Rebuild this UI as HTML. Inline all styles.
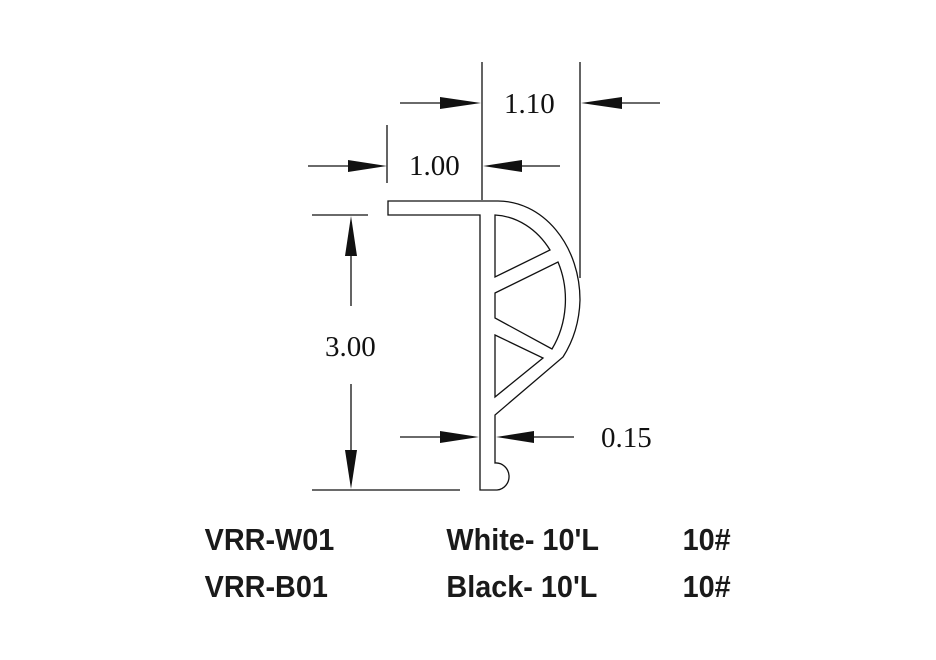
<!DOCTYPE html>
<html><head><meta charset="utf-8"><style>
body{margin:0;background:#fff;}
svg{display:block}
.s{font-family:"Liberation Serif",serif;font-size:29px;fill:#111}
.b{font-family:"Liberation Sans",sans-serif;font-weight:bold;font-size:31px;fill:#1a1a1a}
</style></head><body>
<svg width="936" height="660" viewBox="0 0 936 660" xmlns="http://www.w3.org/2000/svg">
<g stroke="#111" stroke-width="1.3" fill="none">
<!-- profile outer -->
<path d="M388,201 L498,201 A82,99 0 0 1 580,300 A82,99 0 0 1 563,357 L495,415 L495,463 A13,13.5 0 0 1 497,490 L480,490 L480,215 L388,215 Z"/>
<!-- cells -->
<path d="M495,215 A72,85 0 0 1 550,250 L495,277 Z"/>
<path d="M495,293 L558,262 A72,85 0 0 1 552,349 L495,318 Z"/>
<path d="M495,335 L543,358 L495,397 Z"/>
<!-- extension lines -->
<line x1="482" y1="62" x2="482" y2="200"/>
<line x1="580" y1="62" x2="580" y2="278"/>
<line x1="387" y1="125" x2="387" y2="183"/>
<line x1="312" y1="215" x2="368" y2="215"/>
<line x1="312" y1="490" x2="460" y2="490"/>
<!-- dim lines -->
<line x1="400" y1="103" x2="442" y2="103"/>
<line x1="620" y1="103" x2="660" y2="103"/>
<line x1="308" y1="166" x2="350" y2="166"/>
<line x1="520" y1="166" x2="560" y2="166"/>
<line x1="351" y1="250" x2="351" y2="306"/>
<line x1="351" y1="384" x2="351" y2="452"/>
<line x1="400" y1="437" x2="442" y2="437"/>
<line x1="532" y1="437" x2="574" y2="437"/>
</g>
<g fill="#111">
<polygon points="440,97 481,103 440,109"/>
<polygon points="622,97 581,103 622,109"/>
<polygon points="348,160 387,166 348,172"/>
<polygon points="522,160 483,166 522,172"/>
<polygon points="345,256 351,216 357,256"/>
<polygon points="345,450 351,489 357,450"/>
<polygon points="440,431 479,437 440,443"/>
<polygon points="534,431 496,437 534,443"/>
</g>
<text class="s" x="504" y="113">1.10</text>
<text class="s" x="409" y="175">1.00</text>
<text class="s" x="325" y="356">3.00</text>
<text class="s" x="601" y="447">0.15</text>
<g transform="scale(0.93,1)">
<text class="b" x="220" y="550">VRR-W01</text>
<text class="b" x="480" y="550">White- 10'L</text>
<text class="b" x="734" y="550">10#</text>
<text class="b" x="220" y="597">VRR-B01</text>
<text class="b" x="480" y="597">Black- 10'L</text>
<text class="b" x="734" y="597">10#</text>
</g>
</svg>
</body></html>
